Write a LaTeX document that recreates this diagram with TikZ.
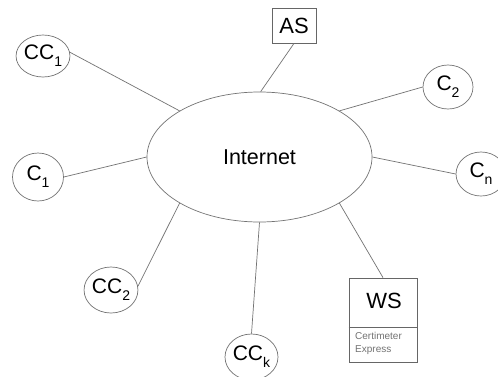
\documentclass[tikz,border=0pt]{standalone}
\usepackage{fontspec}
\setmainfont{Liberation Sans}
\usetikzlibrary{shapes.geometric}
\newcommand\sbs[1]{\raisebox{-0.33em}{\fontsize{14}{14}\selectfont #1}}
\tikzset{
  edgeline/.style={draw=black!55, line width=0.7pt},
  termnode/.style={ellipse, draw=black!55, line width=0.7pt, inner sep=0pt,
    font=\fontsize{21}{21}\selectfont},
  boxnode/.style={rectangle, draw=black!60, line width=0.8pt, inner sep=0pt,
    font=\fontsize{22}{22}\selectfont},
}
\begin{document}
\begin{tikzpicture}[x=1pt,y=-1pt]
\useasboundingbox (0,0) rectangle (498,376);
\clip (0,0) rectangle (498,376);
\fill[white] (0,0) rectangle (498,376);
% central cloud
\node[ellipse, draw=black!55, line width=0.7pt, minimum width=225pt, minimum height=130pt,
  inner sep=0pt, font=\fontsize{21.5}{21.5}\selectfont] (inet) at (259.5,157) {Internet};
% terminals
\node[termnode, minimum width=52pt, minimum height=42pt] (cc1) at (43,56) {CC\sbs{1}};
\node[termnode, minimum width=51pt, minimum height=48pt] (c1) at (38,177) {C\sbs{1}};
\node[termnode, minimum width=50pt, minimum height=44pt] (c2) at (448,87) {C\sbs{2}};
\node[termnode, minimum width=50pt, minimum height=44pt] (cn) at (481,174) {C\sbs{n}};
\node[termnode, minimum width=52pt, minimum height=46pt] (cc2) at (111,290) {CC\sbs{2}};
\node[termnode, minimum width=53pt, minimum height=46pt] (cck) at (251.5,357) {CC\sbs{k}};
% boxes
\node[boxnode, minimum width=44pt, minimum height=35pt] (as) at (294,25.5) {AS};
\node[boxnode, minimum width=68pt, minimum height=84pt] (ws) at (383,320) {};
\draw[draw=black!60, line width=0.8pt] (ws.west |- 0,327) -- (ws.east |- 0,327);
\node[font=\fontsize{22}{22}\selectfont] (wslabel) at (384,301) {WS};
\node[anchor=north west, align=left, text=black!55, inner sep=0pt,
  font=\fontsize{10}{13}\selectfont] (wssub) at (355,332) {Certimeter\\Express};
% connectors
\draw[edgeline] (inet.150.8) -- (cc1.8);
\draw[edgeline] (inet.180) -- (c1.east);
\draw[edgeline] (inet.89) -- (as.south);
\draw[edgeline] (inet.30) -- (c2.west);
\draw[edgeline] (inet.0) -- (cn.west);
\draw[edgeline] (inet.210) -- (cc2.8);
\draw[edgeline] (inet.270) -- (cck.north);
\draw[edgeline] (inet.330) -- (ws.north);
\end{tikzpicture}
\end{document}
